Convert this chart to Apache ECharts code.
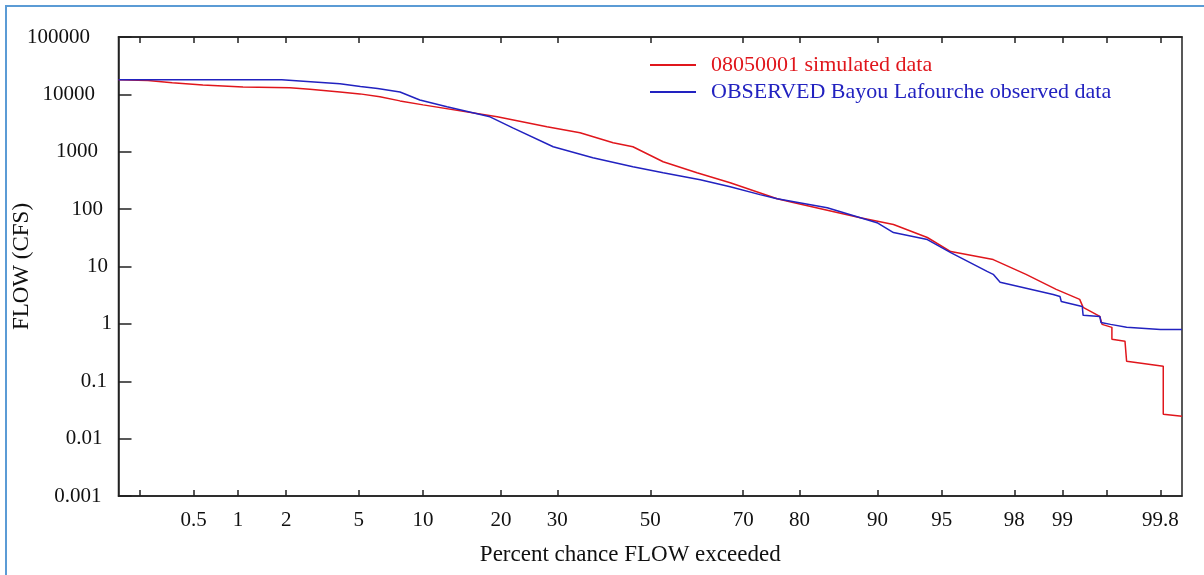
<!DOCTYPE html>
<html>
<head>
<meta charset="utf-8">
<script src="https://cdn.jsdelivr.net/npm/echarts@6/dist/echarts.min.js"></script>
<style>
  html, body { margin: 0; padding: 0; background: #fff; }
  #wrap { position: relative; width: 1204px; height: 575px; overflow: hidden; }
  #flowChart { position: absolute; left: 0; top: 0; width: 1204px; height: 575px; }
  #frame { position: absolute; left: 5px; top: 5px; right: 0; bottom: 0;
           border-top: 2px solid #5b9bd5; border-left: 2px solid #5b9bd5; pointer-events: none; }
</style>
</head>
<body>
<div id="wrap"><div id="flowChart"></div><div id="frame"></div></div>
<script>
// percent of time flow exceeded (x) and flow in cfs (y)
var simName = '08050001 simulated data';
var simP = [0.135, 0.23, 0.35, 0.58, 1.08, 2.1, 2.74, 4.0, 5.07, 6.36, 7.9, 10.0, 19.4, 28.0, 34.6, 41.7,
            46.1, 52.9, 60.4, 67.4, 76.3, 79.0, 88.2, 91.5, 94.1, 95.5, 97.35, 98.3, 98.9, 99.23, 99.27,
            99.44, 99.46, 99.54, 99.54, 99.63, 99.64, 99.81, 99.81, 99.865];
var simFlow = [17900, 17500, 16000, 14600, 13500, 13000, 12300, 11000, 10200, 9100, 7700, 6560, 4060, 2720, 2140, 1430,
               1220, 670, 431, 289, 152, 130, 71, 54, 32, 18.2, 13.2, 7.3, 4.0, 2.67, 1.94,
               1.35, 0.98, 0.87, 0.54, 0.50, 0.223, 0.182, 0.0267, 0.0246];

var obsName = 'OBSERVED Bayou Lafourche observed data';
var obsP = [0.135, 1.88, 2.9, 4.0, 5.1, 6.2, 7.9, 9.68, 12.57, 18.3, 21.9, 29.2, 37.3, 46.1, 52.9, 61.1,
            67.4, 73.2, 76.3, 84.1, 89.96, 91.5, 94.1, 95.5, 97.13, 97.35, 97.58, 98.85, 98.96, 98.98,
            99.26, 99.27, 99.44, 99.45, 99.53, 99.64, 99.80, 99.865];
var obsFlow = [17900, 17900, 16500, 15300, 13700, 12600, 11000, 8000, 6070, 4060, 2610, 1220, 787, 548, 431, 326,
               246, 179, 152, 106, 58, 39, 29.5, 17.5, 8.2, 7.3, 5.3, 3.26, 3.0, 2.46,
               2.01, 1.41, 1.35, 1.06, 0.98, 0.87, 0.80, 0.80];

var tickP = [0.2, 0.5, 1, 2, 5, 10, 20, 30, 50, 70, 80, 90, 95, 98, 99, 99.5, 99.8];
var labelP = [0.5, 1, 2, 5, 10, 20, 30, 50, 70, 80, 90, 95, 98, 99, 99.8];
var yLabels = ['0.001', '0.01', '0.1', '1', '10', '100', '1000', '10000', '100000'];

var RED = '#e0161c';
var BLUE = '#2222c0';
var FONT = "'Liberation Serif', 'Times New Roman', serif";

// normal probability scale: percent -> standard normal deviate (Acklam)
function normInv(p) {
  var a = [-39.69683028665376, 220.9460984245205, -275.9285104469687, 138.3577518672690, -30.66479806614716, 2.506628274631000];
  var b = [-54.47609879822406, 161.5858368580409, -155.6989798598866, 66.80131188771972, -13.28068155288572];
  var c = [-0.007784894002430293, -0.3223964580411365, -2.400758277161838, -2.549732539343734, 4.374664141464968, 2.938163982698783];
  var d = [0.007784695709041462, 0.3224671290700398, 2.445134137142996, 3.754408661907416];
  var pl = 0.02425, q, r;
  if (p < pl) {
    q = Math.sqrt(-2 * Math.log(p));
    return (((((c[0]*q+c[1])*q+c[2])*q+c[3])*q+c[4])*q+c[5]) / ((((d[0]*q+d[1])*q+d[2])*q+d[3])*q+1);
  }
  if (p > 1 - pl) {
    q = Math.sqrt(-2 * Math.log(1 - p));
    return -(((((c[0]*q+c[1])*q+c[2])*q+c[3])*q+c[4])*q+c[5]) / ((((d[0]*q+d[1])*q+d[2])*q+d[3])*q+1);
  }
  q = p - 0.5; r = q * q;
  return (((((a[0]*r+a[1])*r+a[2])*r+a[3])*r+a[4])*r+a[5])*q / (((((b[0]*r+b[1])*r+b[2])*r+b[3])*r+b[4])*r+1);
}
function toZ(pct) { return normInv(pct / 100); }
function pairs(ps, vs) { return ps.map(function (p, i) { return [toZ(p), vs[i]]; }); }

var tickZ = tickP.map(toZ);
var labelZ = labelP.map(toZ);

// y labels sit further from the axis the longer they are
var yPad = [17, 16, 11.5, 6.5, 10.5, 15.5, 20.5, 23.5, 28.5];
var yRich = {};
yPad.forEach(function (g, k) {
  yRich['g' + k] = { padding: [0, g, 0, 0], fontFamily: FONT, fontSize: 21, color: '#111' };
});

var myChart = echarts.init(document.getElementById('flowChart'));
var option = {
  backgroundColor: 'transparent',
  animation: false,
  grid: {
    left: 118.5, right: 22, top: 37, bottom: 79,
    containLabel: false, outerBoundsMode: 'none',
    show: true, borderColor: '#222', borderWidth: 1.5
  },
  legend: {
    orient: 'vertical', left: 645, top: 49,
    itemWidth: 46, itemHeight: 2, itemGap: 5, icon: 'rect',
    textStyle: { fontFamily: FONT, fontSize: 22, padding: [0, 0, 0, 10] },
    data: [
      { name: simName, textStyle: { color: RED } },
      { name: obsName, textStyle: { color: BLUE } }
    ]
  },
  xAxis: [
    {
      type: 'value', min: -3, max: 3, position: 'bottom',
      name: 'Percent chance FLOW exceeded', nameLocation: 'middle', nameGap: 47, nameMoveOverlap: false,
      nameTextStyle: { fontFamily: FONT, fontSize: 23, color: '#111', padding: [0, 40, 0, 0] },
      axisLine: { onZero: false, lineStyle: { color: '#222', width: 1.5 } },
      axisTick: { inside: true, length: 6, customValues: tickZ, lineStyle: { color: '#222', width: 1.5 } },
      axisLabel: {
        customValues: labelZ, margin: 14,
        fontFamily: FONT, fontSize: 21, color: '#111',
        formatter: function (v) {
          var best = 0;
          labelZ.forEach(function (z, i) { if (Math.abs(z - v) < Math.abs(labelZ[best] - v)) best = i; });
          return String(labelP[best]);
        }
      },
      splitLine: { show: false }
    },
    {
      type: 'value', min: -3, max: 3, position: 'top',
      axisLine: { onZero: false, lineStyle: { color: '#222', width: 1.5 } },
      axisTick: { inside: true, length: 6, customValues: tickZ, lineStyle: { color: '#222', width: 1.5 } },
      axisLabel: { show: false },
      splitLine: { show: false }
    }
  ],
  yAxis: {
    type: 'log', logBase: 10, min: 0.001, max: 100000, splitNumber: 8,
    name: 'FLOW (CFS)', nameLocation: 'middle', nameGap: 85, nameRotate: 90, nameMoveOverlap: false,
    nameTextStyle: { fontFamily: FONT, fontSize: 23, color: '#111' },
    axisLine: { show: true, onZero: false, lineStyle: { color: '#222', width: 1.5 } },
    axisTick: { inside: true, length: 13, lineStyle: { color: '#222', width: 1.5 } },
    minorTick: { show: false },
    axisLabel: {
      margin: 0, fontFamily: FONT, fontSize: 21, color: '#111',
      formatter: function (v) {
        var k = Math.round(Math.log10(v)) + 3;
        return '{g' + k + '|' + yLabels[k] + '}';
      },
      rich: yRich
    },
    splitLine: { show: false }
  },
  series: [
    {
      name: simName, type: 'line', xAxisIndex: 0, showSymbol: false, symbol: 'none',
      color: RED, lineStyle: { color: RED, width: 1.5 },
      data: pairs(simP, simFlow)
    },
    {
      name: obsName, type: 'line', xAxisIndex: 0, showSymbol: false, symbol: 'none',
      color: BLUE, lineStyle: { color: BLUE, width: 1.5 },
      data: pairs(obsP, obsFlow)
    }
  ]
};
myChart.setOption(option);
</script>
</body>
</html>
